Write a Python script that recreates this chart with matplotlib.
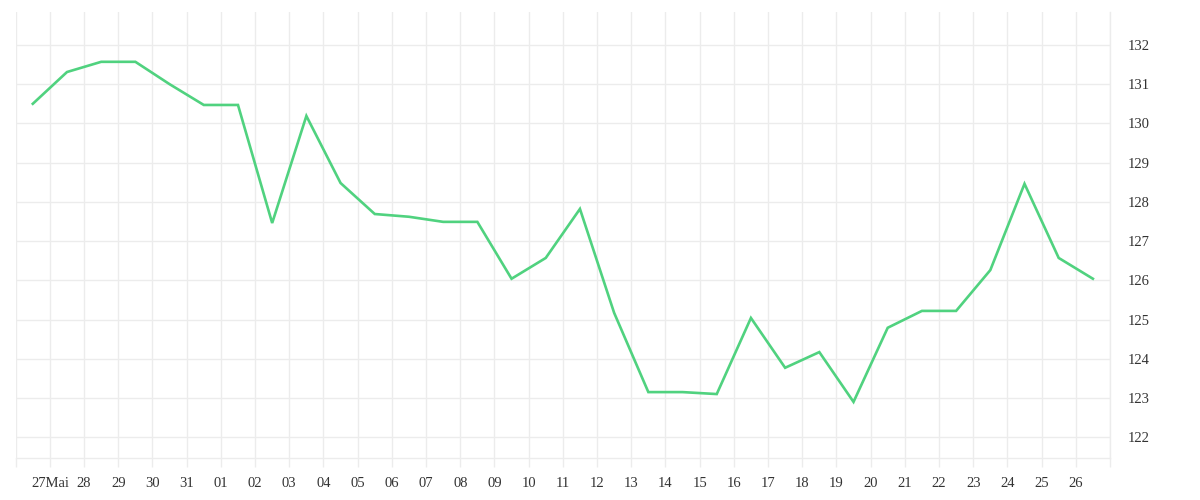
import numpy as np
import matplotlib
matplotlib.use('Agg')
import matplotlib.pyplot as plt

# daily values, one per day (midday)
values = [130.50, 131.31, 131.57, 131.57, 131.00, 130.47, 130.47, 127.46,
          130.19, 128.48, 127.69, 127.62, 127.49, 127.49, 126.04, 126.57,
          127.82, 125.17, 123.15, 123.15, 123.10, 125.04, 123.77, 124.17,
          122.90, 124.79, 125.22, 125.22, 126.26, 128.46, 126.57, 126.04]

day_labels = ['27Mai', '28', '29', '30', '31', '01', '02', '03', '04', '05',
              '06', '07', '08', '09', '10', '11', '12', '13', '14', '15',
              '16', '17', '18', '19', '20', '21', '22', '23', '24', '25', '26']

y_ticks = [122, 123, 124, 125, 126, 127, 128, 129, 130, 131, 132]

grid_col = '#ececec'
line_col = '#50d27f'
text_col = '#333333'

plt.rcParams['font.family'] = ['Liberation Serif', 'DejaVu Serif']

fig = plt.figure(figsize=(12, 5), dpi=100)
ax = fig.add_axes([15.7 / 1200, 42 / 500, (1110 - 15.7) / 1200, (458 - 12) / 500])

x = np.arange(len(values)) + 0.5
ax.plot(x, values, color=line_col, linewidth=1.9, solid_joinstyle='miter', zorder=3)

ax.set_xlim(0, 32)
ax.set_ylim(121.47, 132.84)

# day boundaries: gridlines everywhere, labels from the second one on
ax.set_xticks(np.arange(0, 33))
ax.set_xticklabels([''] + day_labels + [''])
ax.set_yticks(y_ticks)
ax.yaxis.tick_right()

ax.grid(True, color=grid_col, linewidth=1, zorder=0)
ax.tick_params(axis='x', length=6.5, width=1, color=grid_col, pad=7,
               labelsize=10.5, labelcolor=text_col)
ax.tick_params(axis='y', length=0, pad=13, labelsize=10.5, labelcolor=text_col)

for side in ['top', 'left']:
    ax.spines[side].set_visible(False)
for side in ['bottom', 'right']:
    ax.spines[side].set_color(grid_col)
    ax.spines[side].set_linewidth(1)

fig.savefig('out.png', dpi=100, facecolor='white')
